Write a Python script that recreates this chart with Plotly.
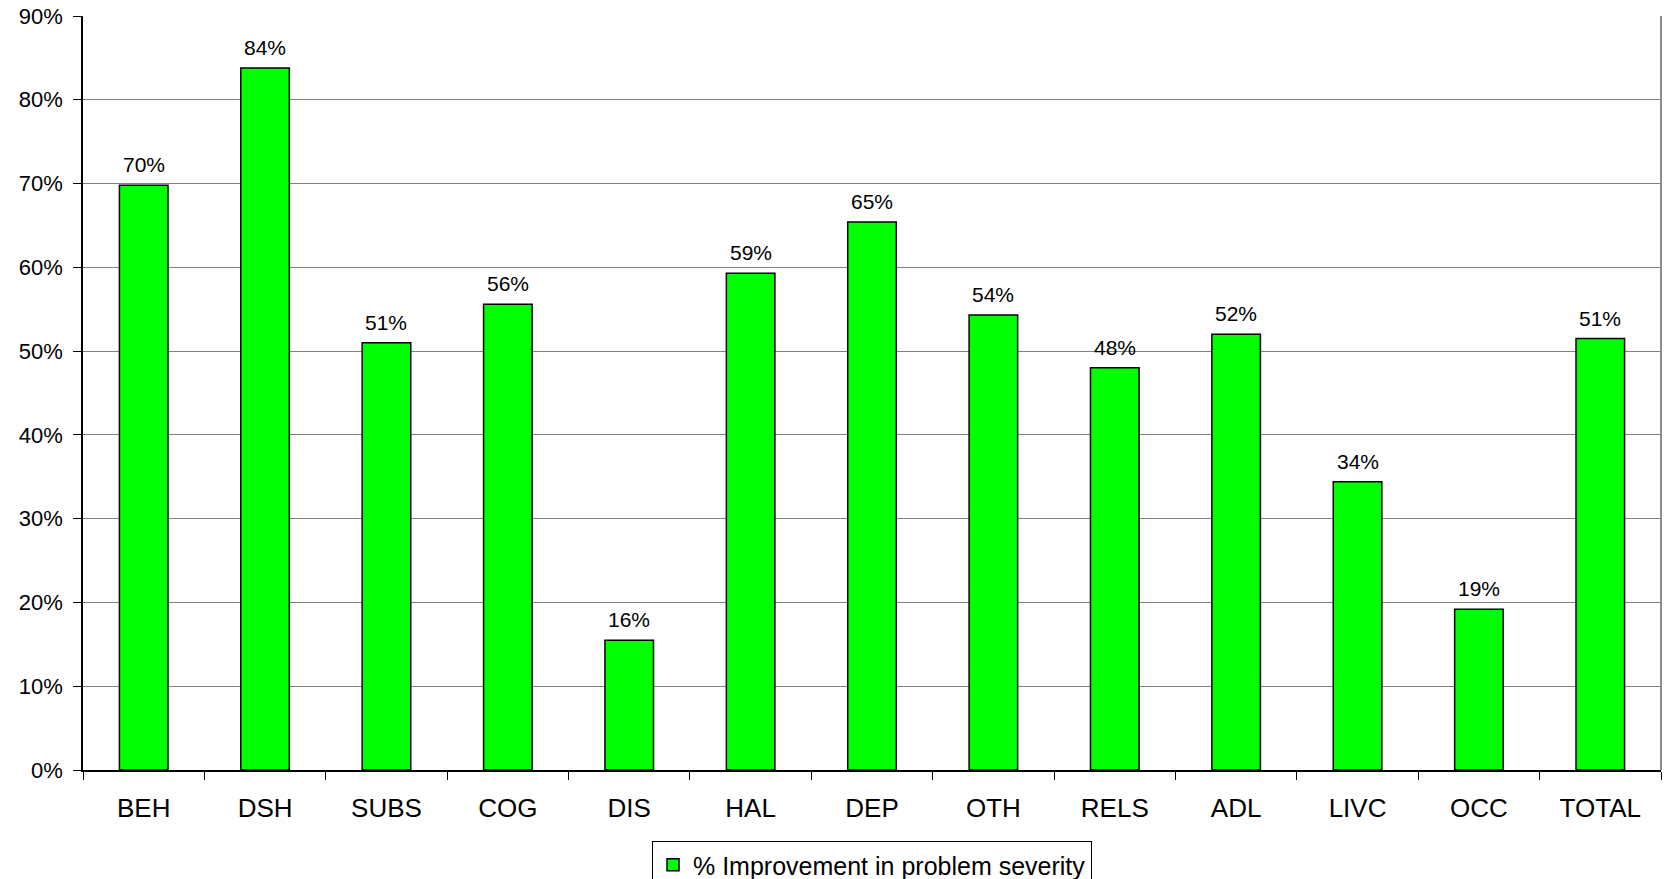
import plotly.graph_objects as go

categories = ["BEH", "DSH", "SUBS", "COG", "DIS", "HAL", "DEP", "OTH", "RELS", "ADL", "LIVC", "OCC", "TOTAL"]
values = [0.698, 0.838, 0.510, 0.556, 0.155, 0.593, 0.654, 0.543, 0.480, 0.520, 0.344, 0.192, 0.515]
labels = ["70%", "84%", "51%", "56%", "16%", "59%", "65%", "54%", "48%", "52%", "34%", "19%", "51%"]
series_name = "% Improvement in problem severity"
y_ticks = [0, 0.1, 0.2, 0.3, 0.4, 0.5, 0.6, 0.7, 0.8, 0.9]
y_tick_text = ["0%", "10%", "20%", "30%", "40%", "50%", "60%", "70%", "80%", "90%"]

FONT = "Liberation Sans, Arial, sans-serif"

fig = go.Figure()
fig.add_trace(go.Bar(
    x=categories, y=values, name=series_name,
    marker=dict(color="#00FF00", line=dict(color="black", width=1.5)),
    showlegend=True,
))

for c, v, t in zip(categories, values, labels):
    fig.add_annotation(x=c, y=v, text=t, showarrow=False, yanchor="bottom",
                       yshift=7, font=dict(family=FONT, size=21, color="black"))

fig.add_shape(type="line", xref="paper", yref="paper", x0=1, x1=1, y0=0, y1=1,
              line=dict(color="#8c8c8c", width=2))

fig.update_layout(
    width=1665, height=879,
    margin=dict(l=83, r=4, t=16, b=109, autoexpand=False),
    paper_bgcolor="white", plot_bgcolor="white",
    bargap=0.6,
    font=dict(family=FONT, color="black"),
    showlegend=True,
    legend=dict(x=0.5, xanchor="center", xref="paper",
                y=1 - 841 / 879, yanchor="top", yref="container",
                orientation="h", bordercolor="black", borderwidth=1,
                font=dict(family=FONT, size=25, color="black"), bgcolor="white"),
    xaxis=dict(showgrid=False, ticks="outside", tickson="boundaries", ticklen=8,
               tickcolor="black", showline=True, linecolor="black", linewidth=1.5,
               tickfont=dict(family=FONT, size=26, color="black"),
               ticklabelstandoff=14, automargin=False),
    yaxis=dict(range=[0, 0.9], tickvals=y_ticks, ticktext=y_tick_text,
               showgrid=True, gridcolor="#808080", gridwidth=1,
               ticks="outside", ticklen=8, tickcolor="black",
               showline=True, linecolor="black", linewidth=1.5,
               tickfont=dict(family=FONT, size=22, color="black"),
               ticklabelstandoff=6, zeroline=False, automargin=False),
)

fig.write_html("out.html", config={"displayModeBar": False},
               post_script="document.body.style.margin='0';document.body.style.overflow='hidden';")
